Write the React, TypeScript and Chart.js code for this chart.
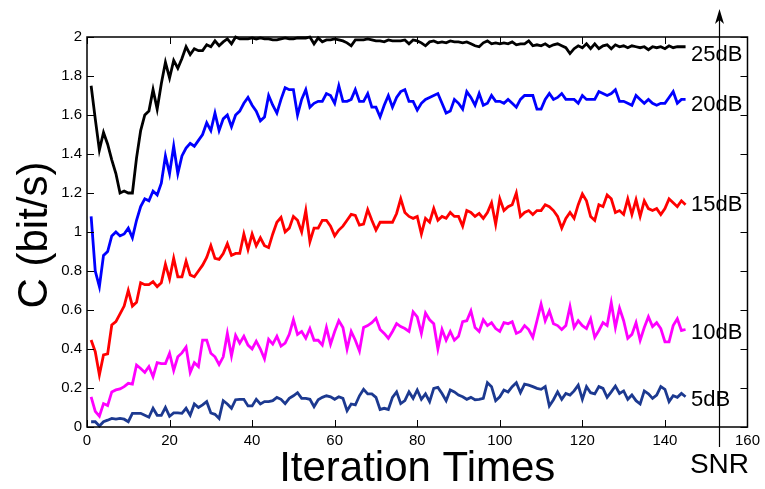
import { useEffect, useRef } from 'react';
import { Chart, registerables } from 'chart.js';

Chart.register(...registerables);

// ---------- data ----------
const ITERATIONS: number[] = Array.from({ length: 145 }, (_, i) => i + 1);

const SNR_25DB = [
  1.75, 1.58, 1.42, 1.51, 1.45, 1.37, 1.30, 1.20, 1.21, 1.20,
  1.20, 1.38, 1.52, 1.60, 1.62, 1.73, 1.63, 1.76, 1.87, 1.79,
  1.88, 1.84, 1.89, 1.95, 1.91, 1.94, 1.93, 1.93, 1.96, 1.95,
  1.98, 1.955, 1.975, 1.99, 1.965, 2.0, 1.99, 1.99, 1.99, 1.995,
  1.99, 1.995, 1.99, 1.99, 1.985, 1.985, 1.99, 1.995, 1.99, 1.99,
  1.995, 1.995, 1.995, 2.0, 1.965, 1.995, 1.975, 1.985, 1.985, 1.99,
  1.985, 1.98, 1.97, 1.955, 1.985, 1.985, 1.985, 1.99, 1.985, 1.98,
  1.98, 1.975, 1.985, 1.98, 1.98, 1.98, 1.985, 1.965, 1.985, 1.98,
  1.97, 1.955, 1.975, 1.98, 1.97, 1.975, 1.97, 1.98, 1.975, 1.975,
  1.97, 1.975, 1.965, 1.955, 1.95, 1.97, 1.98, 1.965, 1.97, 1.965,
  1.97, 1.965, 1.975, 1.96, 1.965, 1.965, 1.98, 1.955, 1.96, 1.955,
  1.965, 1.95, 1.96, 1.965, 1.955, 1.945, 1.915, 1.94, 1.955, 1.945,
  1.965, 1.94, 1.965, 1.94, 1.955, 1.96, 1.94, 1.96, 1.95, 1.955,
  1.945, 1.955, 1.95, 1.945, 1.95, 1.935, 1.95, 1.945, 1.95, 1.94,
  1.955, 1.945, 1.95, 1.95, 1.95,
];

const SNR_20DB = [
  1.08, 0.80, 0.72, 0.88, 0.90, 0.98, 1.00, 0.98, 0.99, 1.02,
  0.97, 1.06, 1.13, 1.17, 1.16, 1.21, 1.19, 1.25, 1.39, 1.30,
  1.44, 1.30, 1.39, 1.43, 1.455, 1.44, 1.47, 1.50, 1.56, 1.52,
  1.61, 1.52, 1.58, 1.60, 1.54, 1.60, 1.62, 1.66, 1.69, 1.65,
  1.62, 1.57, 1.59, 1.70, 1.65, 1.61, 1.68, 1.74, 1.73, 1.73,
  1.60, 1.68, 1.73, 1.64, 1.66, 1.67, 1.67, 1.71, 1.70, 1.66,
  1.75, 1.67, 1.67, 1.68, 1.73, 1.67, 1.67, 1.71, 1.64, 1.64,
  1.59, 1.65, 1.70, 1.64, 1.69, 1.72, 1.73, 1.67, 1.67, 1.625,
  1.66, 1.68, 1.69, 1.70, 1.71, 1.66, 1.61, 1.62, 1.68, 1.66,
  1.63, 1.72, 1.69, 1.65, 1.71, 1.65, 1.66, 1.70, 1.67, 1.67,
  1.66, 1.68, 1.66, 1.64, 1.68, 1.70, 1.70, 1.70, 1.63, 1.63,
  1.68, 1.71, 1.68, 1.69, 1.71, 1.68, 1.68, 1.68, 1.66, 1.70,
  1.68, 1.68, 1.68, 1.72, 1.71, 1.70, 1.71, 1.73, 1.67, 1.67,
  1.66, 1.65, 1.70, 1.68, 1.66, 1.68, 1.66, 1.65, 1.66, 1.66,
  1.69, 1.72, 1.66, 1.68, 1.68,
];

const SNR_15DB = [
  0.446, 0.386, 0.267, 0.37, 0.375, 0.523, 0.54, 0.58, 0.62, 0.70,
  0.62, 0.64, 0.74, 0.73, 0.73, 0.745, 0.72, 0.74, 0.835, 0.76,
  0.865, 0.77, 0.77, 0.85, 0.78, 0.77, 0.80, 0.83, 0.87, 0.93,
  0.865, 0.86, 0.89, 0.94, 0.88, 0.89, 0.89, 0.99, 0.91, 0.99,
  0.93, 0.97, 0.93, 0.92, 0.99, 1.05, 1.075, 1.00, 1.02, 1.08,
  1.06, 1.00, 1.11, 0.95, 1.02, 1.02, 1.06, 1.06, 1.03, 0.98,
  1.01, 1.03, 1.06, 1.09, 1.085, 1.035, 1.04, 1.115, 1.06, 1.01,
  1.05, 1.05, 1.05, 1.05, 1.095, 1.17, 1.10, 1.08, 1.07, 1.08,
  0.99, 1.07, 1.05, 1.12, 1.06, 1.08, 1.07, 1.10, 1.08, 1.08,
  1.03, 1.11, 1.10, 1.08, 1.095, 1.07, 1.10, 1.15, 1.04, 1.17,
  1.11, 1.13, 1.14, 1.20, 1.08, 1.10, 1.11, 1.09, 1.11, 1.11,
  1.14, 1.13, 1.11, 1.08, 1.02, 1.07, 1.10, 1.07, 1.14, 1.195,
  1.16, 1.08, 1.06, 1.14, 1.13, 1.19, 1.17, 1.10, 1.11, 1.09,
  1.17, 1.09, 1.165, 1.08, 1.16, 1.12, 1.11, 1.12, 1.09, 1.12,
  1.17, 1.15, 1.13, 1.16, 1.14,
];

const SNR_10DB = [
  0.155, 0.08, 0.055, 0.12, 0.11, 0.18, 0.19, 0.195, 0.207, 0.224,
  0.22, 0.318, 0.30, 0.28, 0.31, 0.258, 0.33, 0.325, 0.325, 0.378,
  0.29, 0.36, 0.38, 0.41, 0.28, 0.33, 0.31, 0.446, 0.446, 0.378,
  0.36, 0.32, 0.36, 0.48, 0.365, 0.47, 0.43, 0.465, 0.42, 0.40,
  0.44, 0.40, 0.35, 0.45, 0.425, 0.465, 0.415, 0.43, 0.475, 0.55,
  0.475, 0.49, 0.455, 0.505, 0.445, 0.445, 0.42, 0.51, 0.425, 0.49,
  0.545, 0.51, 0.40, 0.49, 0.445, 0.39, 0.51, 0.52, 0.535, 0.557,
  0.50, 0.48, 0.455, 0.49, 0.53, 0.515, 0.505, 0.49, 0.59, 0.565,
  0.48, 0.585, 0.55, 0.53, 0.40, 0.50, 0.445, 0.49, 0.445, 0.465,
  0.54, 0.545, 0.595, 0.51, 0.49, 0.55, 0.52, 0.535, 0.505, 0.49,
  0.535, 0.53, 0.54, 0.48, 0.49, 0.52, 0.50, 0.46, 0.545, 0.63,
  0.545, 0.595, 0.53, 0.52, 0.50, 0.52, 0.617, 0.51, 0.545, 0.52,
  0.505, 0.555, 0.46, 0.495, 0.535, 0.52, 0.637, 0.51, 0.61, 0.545,
  0.455, 0.475, 0.535, 0.445, 0.51, 0.565, 0.515, 0.535, 0.505, 0.437,
  0.437, 0.52, 0.555, 0.495, 0.50,
];

const SNR_5DB = [
  0.027, 0.027, 0.005, 0.027, 0.035, 0.044, 0.04, 0.044, 0.04, 0.027,
  0.07, 0.07, 0.07, 0.06, 0.05, 0.096, 0.06, 0.06, 0.10, 0.055,
  0.072, 0.072, 0.07, 0.096, 0.06, 0.118, 0.10, 0.113, 0.13, 0.072,
  0.065, 0.044, 0.135, 0.118, 0.096, 0.14, 0.142, 0.142, 0.108, 0.108,
  0.142, 0.118, 0.13, 0.13, 0.135, 0.152, 0.142, 0.12, 0.147, 0.16,
  0.176, 0.147, 0.147, 0.142, 0.104, 0.14, 0.152, 0.16, 0.155, 0.142,
  0.155, 0.147, 0.084, 0.118, 0.113, 0.16, 0.193, 0.17, 0.17, 0.152,
  0.09, 0.096, 0.09, 0.152, 0.18, 0.12, 0.135, 0.18, 0.147, 0.19,
  0.142, 0.17, 0.13, 0.198, 0.203, 0.172, 0.135, 0.19, 0.18, 0.164,
  0.155, 0.142, 0.152, 0.14, 0.142, 0.147, 0.227, 0.207, 0.135, 0.155,
  0.19, 0.18, 0.207, 0.227, 0.176, 0.22, 0.215, 0.207, 0.198, 0.193,
  0.207, 0.108, 0.14, 0.18, 0.142, 0.172, 0.164, 0.185, 0.215, 0.142,
  0.207, 0.176, 0.17, 0.207, 0.198, 0.152, 0.18, 0.21, 0.172, 0.185,
  0.142, 0.164, 0.135, 0.118, 0.185, 0.17, 0.147, 0.164, 0.207, 0.193,
  0.13, 0.16, 0.152, 0.172, 0.155,
];

const SERIES_NAMES = ['25dB', '20dB', '15dB', '10dB', '5dB'];
const X_TICKS = [0, 20, 40, 60, 80, 100, 120, 140, 160];
const Y_TICKS = [0, 0.2, 0.4, 0.6, 0.8, 1, 1.2, 1.4, 1.6, 1.8, 2];
const X_TITLE = 'Iteration Times';
const Y_TITLE = 'C (bit/s)';
const SNR_LABEL = 'SNR';

// ---------- style ----------
const FONT = '"Liberation Sans", Arial, Helvetica, sans-serif';
const COLORS = ['#000000', '#0000ff', '#ff0000', '#ff00ff', '#1c3990'];
const LABEL_AT = [1.91, 1.65, 1.14, 0.48, 0.14]; // y-value where each label sits
const SNR_X = 153;

const overlay = {
  id: 'overlay',
  afterDraw(chart: any) {
    const ctx = chart.ctx as CanvasRenderingContext2D;
    const { left, right, top, bottom } = chart.chartArea;
    const xs = chart.scales.x;
    const ys = chart.scales.y;
    ctx.save();
    ctx.strokeStyle = '#000';
    ctx.lineWidth = 1.5;
    ctx.strokeRect(left, top, right - left, bottom - top);

    ctx.lineWidth = 1;
    const seg = (x1: number, y1: number, x2: number, y2: number) => {
      ctx.beginPath();
      ctx.moveTo(x1, y1);
      ctx.lineTo(x2, y2);
      ctx.stroke();
    };
    Y_TICKS.forEach((v) => {
      const py = Math.round(ys.getPixelForValue(v)) + 0.5;
      seg(left, py, left + 7, py);
      seg(right, py, right - 7, py);
    });
    X_TICKS.forEach((v) => {
      const px = Math.round(xs.getPixelForValue(v)) + 0.5;
      seg(px, bottom, px, bottom - 7);
      seg(px, top, px, top + 7);
    });

    // SNR arrow
    const sx = Math.round(xs.getPixelForValue(SNR_X)) + 0.5;
    ctx.lineWidth = 1.2;
    seg(sx, 20, sx, 447);
    ctx.fillStyle = '#000';
    ctx.beginPath();
    ctx.moveTo(sx, 9);
    ctx.lineTo(sx - 4.5, 24);
    ctx.lineTo(sx, 20);
    ctx.lineTo(sx + 4.5, 24);
    ctx.closePath();
    ctx.fill();

    // series labels
    ctx.font = `22px ${FONT}`;
    ctx.textAlign = 'left';
    ctx.textBaseline = 'middle';
    SERIES_NAMES.forEach((name, i) => {
      ctx.fillText(name, 691, ys.getPixelForValue(LABEL_AT[i]));
    });

    ctx.font = `28px ${FONT}`;
    ctx.textAlign = 'center';
    ctx.textBaseline = 'alphabetic';
    ctx.fillText(SNR_LABEL, sx, 473);

    // axis titles
    ctx.font = `42px ${FONT}`;
    ctx.fillText(X_TITLE, (left + right) / 2, 481);
    ctx.save();
    ctx.translate(47, (top + bottom) / 2 + 3);
    ctx.rotate(-Math.PI / 2);
    ctx.fillText(Y_TITLE, 0, 0);
    ctx.restore();
    ctx.restore();
  },
};

export default function App() {
  const ref = useRef<HTMLCanvasElement | null>(null);
  useEffect(() => {
    if (!ref.current) return;
    const all = [SNR_25DB, SNR_20DB, SNR_15DB, SNR_10DB, SNR_5DB];
    const chart = new Chart(ref.current, {
      type: 'line',
      data: {
        datasets: all.map((vals, i) => ({
          label: SERIES_NAMES[i],
          data: ITERATIONS.map((x, j) => ({ x, y: vals[j] })),
          borderColor: COLORS[i],
          backgroundColor: COLORS[i],
          borderWidth: 2.8,
          pointRadius: 0,
          tension: 0,
          fill: false,
          clip: 6,
        })),
      },
      options: {
        responsive: false,
        animation: false,
        events: [],
        layout: { padding: { top: 37, right: 15, left: 0, bottom: 0 } },
        plugins: { legend: { display: false }, tooltip: { enabled: false } },
        scales: {
          x: {
            type: 'linear',
            min: 0,
            max: 160,
            afterBuildTicks: (s: any) => {
              s.ticks = X_TICKS.map((v) => ({ value: v }));
            },
            afterFit: (s: any) => {
              s.height = 62;
            },
            grid: { display: false, drawTicks: false },
            border: { display: false },
            ticks: {
              padding: 5,
              color: '#000',
              font: { family: FONT, size: 15 },
              maxRotation: 0,
              autoSkip: false,
              callback: (v: any) => String(v),
            },
          },
          y: {
            type: 'linear',
            min: 0,
            max: 2,
            afterBuildTicks: (s: any) => {
              s.ticks = Y_TICKS.map((v) => ({ value: v }));
            },
            afterFit: (s: any) => {
              s.width = 87;
            },
            grid: { display: false, drawTicks: false },
            border: { display: false },
            ticks: {
              padding: 5,
              color: '#000',
              font: { family: FONT, size: 15 },
              autoSkip: false,
              callback: (v: any) => String(v),
            },
          },
        },
      },
      plugins: [overlay],
    } as any);
    return () => chart.destroy();
  }, []);

  return (
    <div style={{ position: 'fixed', left: 0, top: 0, width: 765, height: 489, background: '#fff' }}>
      <canvas ref={ref} width={765} height={489} />
    </div>
  );
}
